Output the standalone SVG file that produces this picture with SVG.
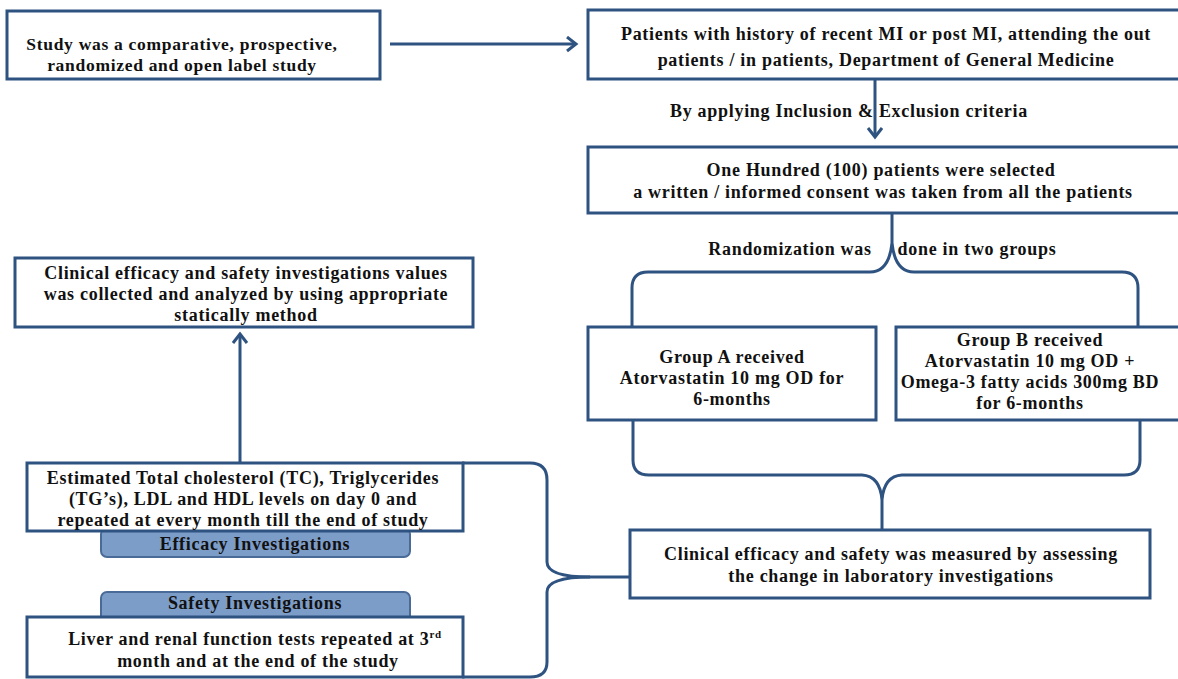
<svg xmlns="http://www.w3.org/2000/svg" width="1178" height="679" viewBox="0 0 1178 679">
<defs>
<marker id="ah" markerUnits="userSpaceOnUse" markerWidth="20" markerHeight="20" refX="11" refY="8" orient="auto">
<path d="M2,1 L11,8 L2,15" fill="none" stroke="#2f5381" stroke-width="3"/>
</marker>
<style>
.box{fill:#fff;stroke:#2f5381;stroke-width:3}
.pill{fill:#7d9dc9;stroke:#4a6b97;stroke-width:2}
.ln{fill:none;stroke:#2f5381;stroke-width:3}
text{font-family:"Liberation Serif","Times New Roman",serif;font-weight:bold;font-size:18px;letter-spacing:0.7px;fill:#111;text-anchor:middle}
.s{font-size:17.5px}
</style>
</defs>
<rect width="1178" height="679" fill="#fff"/>
<g id="connectors">
<line class="ln" x1="390" y1="44" x2="576" y2="44" marker-end="url(#ah)"/>
<line class="ln" x1="875" y1="79" x2="875" y2="137" marker-end="url(#ah)"/>
<path class="ln" d="M632,330 L632,288 Q632,272 648,272 L870,272 Q889,272 892,243 L892,213 M892,243 Q895,272 914,272 L1122,272 Q1138,272 1138,288 L1138,330"/>
<path class="ln" d="M633,418 L633,460 Q633,475 649,475 L862,475 Q880,476 882,500 Q884,476 902,475 L1124,475 Q1140,475 1140,460 L1140,418"/>
<line class="ln" x1="882" y1="500" x2="882" y2="530"/>
<path class="ln" d="M462,463 L530,463 Q547,463 547,480 L547,562 Q547,577 590,577 L630,577"/>
<path class="ln" d="M590,577 Q547,577 547,592 L547,662 Q547,677 530,677 L462,677"/>
<line class="ln" x1="240" y1="463" x2="240" y2="334" marker-end="url(#ah)"/>
</g>
<g id="n1">
<rect class="box" x="7" y="11" width="373" height="68"/>
<text class="s" x="182" y="50">Study was a comparative, prospective,</text>
<text class="s" x="182" y="71">randomized and open label study</text>
</g>
<g id="n2">
<rect class="box" x="588" y="10" width="594" height="69"/>
<text x="886" y="40">Patients with history of recent MI or post MI, attending the out</text>
<text x="886" y="66">patients / in patients, Department of General Medicine</text>
</g>
<g id="lbl1">
<text x="849" y="117">By applying Inclusion &amp; Exclusion criteria</text>
</g>
<g id="n3">
<rect class="box" x="588" y="147" width="594" height="66"/>
<text x="881" y="176">One Hundred (100) patients were selected</text>
<text x="883" y="198">a written / informed consent was taken from all the patients</text>
</g>
<g id="lbl2">
<text x="790" y="255">Randomization was</text>
<text x="977" y="255">done in two groups</text>
</g>
<g id="nA">
<rect class="box" x="588" y="327" width="288" height="93"/>
<text x="732" y="363">Group A received</text>
<text x="732" y="384">Atorvastatin 10 mg OD for</text>
<text x="732" y="405">6-months</text>
</g>
<g id="nB">
<rect class="box" x="896" y="327" width="286" height="93"/>
<text x="1030" y="346">Group B received</text>
<text x="1030" y="367">Atorvastatin 10 mg OD +</text>
<text x="1030" y="388">Omega-3 fatty acids 300mg BD</text>
<text x="1030" y="409">for 6-months</text>
</g>
<g id="n4">
<rect class="box" x="630" y="530" width="520" height="68"/>
<text x="891" y="560">Clinical efficacy and safety was measured by assessing</text>
<text x="891" y="582">the change in laboratory investigations</text>
</g>
<g id="n5">
<rect class="box" x="15" y="258" width="458" height="69"/>
<text x="246" y="279">Clinical efficacy and safety investigations values</text>
<text x="246" y="300">was collected and analyzed by using appropriate</text>
<text x="246" y="321">statically method</text>
</g>
<g id="pEff">
<rect class="pill" x="101" y="528" width="309" height="29" rx="6"/>
<text x="255" y="550">Efficacy Investigations</text>
</g>
<g id="n6">
<rect class="box" x="27" y="463" width="436" height="68"/>
<text x="243" y="484">Estimated Total cholesterol (TC), Triglycerides</text>
<text x="243" y="505">(TG’s), LDL and HDL levels on day 0 and</text>
<text x="243" y="526">repeated at every month till the end of study</text>
</g>
<g id="pSaf">
<rect class="pill" x="101" y="592" width="309" height="35" rx="6"/>
<text x="255" y="609">Safety Investigations</text>
</g>
<g id="n7">
<rect class="box" x="27" y="617" width="436" height="60"/>
<text x="255" y="645">Liver and renal function tests repeated at 3<tspan font-size="11" dy="-7">rd</tspan></text>
<text x="258" y="667">month and at the end of the study</text>
</g>
</svg>
